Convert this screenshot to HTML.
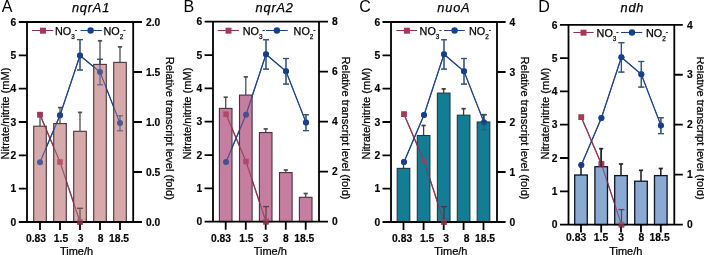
<!DOCTYPE html>
<html><head><meta charset="utf-8"><style>
html,body{margin:0;padding:0;background:#fff;width:704px;height:255px;overflow:hidden}
svg{display:block;will-change:transform}
text{font-family:"Liberation Sans", sans-serif;fill:#000}
.rg{stroke:#000;stroke-width:0.25}
.bd{font-weight:bold;stroke:#000;stroke-width:0.15}
</style></head><body>
<svg width="704" height="255" viewBox="0 0 704 255">
<g><text x="1.8" y="12" font-size="16" fill="#111">A</text><text x="91" y="12.3" font-size="12.8" letter-spacing="0.8" font-style="italic" class="rg" text-anchor="middle" fill="#111">nqrA1</text><polyline points="40,114.7 60,162 80,222" fill="none" stroke="#8e3550" stroke-width="1.2"/><line x1="80" y1="208.3" x2="80" y2="222" stroke="#3a2a30" stroke-width="1.2"/><line x1="77" y1="208.3" x2="83" y2="208.3" stroke="#3a2a30" stroke-width="1.3"/><rect x="37.2" y="111.9" width="5.6" height="5.6" fill="#a63a55"/><rect x="57.2" y="159.2" width="5.6" height="5.6" fill="#a63a55"/><rect x="77.2" y="219.2" width="5.6" height="5.6" fill="#a63a55"/><polyline points="40,162.3 60,115.2 80,55.5 100,72 120,123.1" fill="none" stroke="#1c4185" stroke-width="1.15"/><line x1="80" y1="39.6" x2="80" y2="70" stroke="#34507e" stroke-width="1.2"/><line x1="77" y1="39.6" x2="83" y2="39.6" stroke="#34507e" stroke-width="1.2"/><line x1="77" y1="70" x2="83" y2="70" stroke="#34507e" stroke-width="1.2"/><line x1="100" y1="59.3" x2="100" y2="84.8" stroke="#34507e" stroke-width="1.2"/><line x1="97" y1="59.3" x2="103" y2="59.3" stroke="#34507e" stroke-width="1.2"/><line x1="97" y1="84.8" x2="103" y2="84.8" stroke="#34507e" stroke-width="1.2"/><line x1="120" y1="115.8" x2="120" y2="130.8" stroke="#34507e" stroke-width="1.2"/><line x1="117" y1="115.8" x2="123" y2="115.8" stroke="#34507e" stroke-width="1.2"/><line x1="117" y1="130.8" x2="123" y2="130.8" stroke="#34507e" stroke-width="1.2"/><circle cx="40" cy="162.3" r="3" fill="#17408c"/><circle cx="60" cy="115.2" r="3" fill="#17408c"/><circle cx="80" cy="55.5" r="3" fill="#17408c"/><circle cx="100" cy="72" r="3" fill="#17408c"/><circle cx="120" cy="123.1" r="3" fill="#17408c"/><line x1="40" y1="114" x2="40" y2="126.2" stroke="#4e4e4e" stroke-width="1.3"/><line x1="37.9" y1="114" x2="42.1" y2="114" stroke="#4e4e4e" stroke-width="1.7"/><line x1="60" y1="107.6" x2="60" y2="123.6" stroke="#4e4e4e" stroke-width="1.3"/><line x1="57.9" y1="107.6" x2="62.1" y2="107.6" stroke="#4e4e4e" stroke-width="1.7"/><line x1="80" y1="112.4" x2="80" y2="131.3" stroke="#4e4e4e" stroke-width="1.3"/><line x1="77.9" y1="112.4" x2="82.1" y2="112.4" stroke="#4e4e4e" stroke-width="1.7"/><line x1="100" y1="40.8" x2="100" y2="64.4" stroke="#4e4e4e" stroke-width="1.3"/><line x1="97.9" y1="40.8" x2="102.1" y2="40.8" stroke="#4e4e4e" stroke-width="1.7"/><line x1="120" y1="46.9" x2="120" y2="62.4" stroke="#4e4e4e" stroke-width="1.3"/><line x1="117.9" y1="46.9" x2="122.1" y2="46.9" stroke="#4e4e4e" stroke-width="1.7"/><rect x="33.7" y="126.2" width="12.6" height="95.8" fill="#d6aaab" stroke="#4a3436" stroke-width="1.1"/><rect x="53.7" y="123.6" width="12.6" height="98.4" fill="#d6aaab" stroke="#4a3436" stroke-width="1.1"/><rect x="73.7" y="131.3" width="12.6" height="90.7" fill="#d6aaab" stroke="#4a3436" stroke-width="1.1"/><rect x="93.7" y="64.4" width="12.6" height="157.6" fill="#d6aaab" stroke="#4a3436" stroke-width="1.1"/><rect x="113.7" y="62.4" width="12.6" height="159.6" fill="#d6aaab" stroke="#4a3436" stroke-width="1.1"/><path d="M18.8,22H142M18.8,222H142M27,22V222M133.2,22V222" stroke="#000" stroke-width="1.8" fill="none"/><path d="M18.8,188.67H27M18.8,155.33H27M18.8,122H27M18.8,88.67H27M18.8,55.33H27M133.2,172H142M133.2,122H142M133.2,72H142M40,222V230M60,222V230M80,222V230M100,222V230M120,222V230" stroke="#000" stroke-width="1.8" fill="none"/><g opacity="0.75"><polyline points="40,114.7 60,162 80,222" fill="none" stroke="#8e3550" stroke-width="1.2"/><line x1="80" y1="208.3" x2="80" y2="222" stroke="#3a2a30" stroke-width="1.2"/><line x1="77" y1="208.3" x2="83" y2="208.3" stroke="#3a2a30" stroke-width="1.3"/><rect x="37.2" y="111.9" width="5.6" height="5.6" fill="#a63a55"/><rect x="57.2" y="159.2" width="5.6" height="5.6" fill="#a63a55"/><rect x="77.2" y="219.2" width="5.6" height="5.6" fill="#a63a55"/><polyline points="40,162.3 60,115.2 80,55.5 100,72 120,123.1" fill="none" stroke="#1c4185" stroke-width="1.15"/><line x1="80" y1="39.6" x2="80" y2="70" stroke="#34507e" stroke-width="1.2"/><line x1="77" y1="39.6" x2="83" y2="39.6" stroke="#34507e" stroke-width="1.2"/><line x1="77" y1="70" x2="83" y2="70" stroke="#34507e" stroke-width="1.2"/><line x1="100" y1="59.3" x2="100" y2="84.8" stroke="#34507e" stroke-width="1.2"/><line x1="97" y1="59.3" x2="103" y2="59.3" stroke="#34507e" stroke-width="1.2"/><line x1="97" y1="84.8" x2="103" y2="84.8" stroke="#34507e" stroke-width="1.2"/><line x1="120" y1="115.8" x2="120" y2="130.8" stroke="#34507e" stroke-width="1.2"/><line x1="117" y1="115.8" x2="123" y2="115.8" stroke="#34507e" stroke-width="1.2"/><line x1="117" y1="130.8" x2="123" y2="130.8" stroke="#34507e" stroke-width="1.2"/><circle cx="40" cy="162.3" r="3" fill="#17408c"/><circle cx="60" cy="115.2" r="3" fill="#17408c"/><circle cx="80" cy="55.5" r="3" fill="#17408c"/><circle cx="100" cy="72" r="3" fill="#17408c"/><circle cx="120" cy="123.1" r="3" fill="#17408c"/></g><text x="16.3" y="225.7" font-size="10.3" class="bd" text-anchor="end">0</text><text x="16.3" y="192.37" font-size="10.3" class="bd" text-anchor="end">1</text><text x="16.3" y="159.03" font-size="10.3" class="bd" text-anchor="end">2</text><text x="16.3" y="125.7" font-size="10.3" class="bd" text-anchor="end">3</text><text x="16.3" y="92.37" font-size="10.3" class="bd" text-anchor="end">4</text><text x="16.3" y="59.03" font-size="10.3" class="bd" text-anchor="end">5</text><text x="16.3" y="25.7" font-size="10.3" class="bd" text-anchor="end">6</text><text x="146" y="225.7" font-size="10.3" class="bd">0.0</text><text x="146" y="175.7" font-size="10.3" class="bd">0.5</text><text x="146" y="125.7" font-size="10.3" class="bd">1.0</text><text x="146" y="75.7" font-size="10.3" class="bd">1.5</text><text x="146" y="25.7" font-size="10.3" class="bd">2.0</text><text x="36" y="241.6" font-size="10.3" class="bd" text-anchor="middle">0.83</text><text x="61" y="241.6" font-size="10.3" class="bd" text-anchor="middle">1.5</text><text x="80.5" y="241.6" font-size="10.3" class="bd" text-anchor="middle">3</text><text x="100.5" y="241.6" font-size="10.3" class="bd" text-anchor="middle">8</text><text x="119" y="241.6" font-size="10.3" class="bd" text-anchor="middle">18.5</text><text x="76.5" y="255" font-size="11" text-anchor="middle" class="rg">Time/h</text><text transform="translate(9.4,113.5) rotate(-90)" font-size="11.1" text-anchor="middle" class="rg">Nitrate/nitrite (mM)</text><text transform="translate(165.5,128.3) rotate(90)" font-size="11.1" text-anchor="middle" class="rg">Relative transcript level (fold)</text><line x1="31.9" y1="30.5" x2="53.2" y2="30.5" stroke="#8e3550" stroke-width="1"/><rect x="40" y="27.7" width="6" height="6" fill="#a63a55"/><text x="55" y="34.7" font-size="10.8" class="rg">NO<tspan font-size="6.4" dy="4">3</tspan><tspan font-size="7" dy="-7">-</tspan></text><line x1="80.5" y1="30.5" x2="101.8" y2="30.5" stroke="#1c4185" stroke-width="1"/><circle cx="90.6" cy="30.5" r="3.2" fill="#17408c"/><text x="103.5" y="34.7" font-size="10.8" class="rg">NO<tspan font-size="6.4" dy="4">2</tspan><tspan font-size="7" dy="-7">-</tspan></text></g>
<g><text x="183.4" y="12" font-size="16" fill="#111">B</text><text x="274.7" y="12.3" font-size="12.8" letter-spacing="0.8" font-style="italic" class="rg" text-anchor="middle" fill="#111">nqrA2</text><polyline points="226,114.2 246,161.5 266,221.7" fill="none" stroke="#8e3550" stroke-width="1.2"/><line x1="266" y1="206.6" x2="266" y2="221.7" stroke="#3a2a30" stroke-width="1.2"/><line x1="263" y1="206.6" x2="269" y2="206.6" stroke="#3a2a30" stroke-width="1.3"/><rect x="223.2" y="111.4" width="5.6" height="5.6" fill="#a63a55"/><rect x="243.2" y="158.7" width="5.6" height="5.6" fill="#a63a55"/><rect x="263.2" y="218.9" width="5.6" height="5.6" fill="#a63a55"/><polyline points="226,162 246,114.7 266,54.3 286,71.3 306,122.4" fill="none" stroke="#1c4185" stroke-width="1.15"/><line x1="266" y1="39.7" x2="266" y2="69.1" stroke="#34507e" stroke-width="1.2"/><line x1="263" y1="39.7" x2="269" y2="39.7" stroke="#34507e" stroke-width="1.2"/><line x1="263" y1="69.1" x2="269" y2="69.1" stroke="#34507e" stroke-width="1.2"/><line x1="286" y1="58.5" x2="286" y2="84.1" stroke="#34507e" stroke-width="1.2"/><line x1="283" y1="58.5" x2="289" y2="58.5" stroke="#34507e" stroke-width="1.2"/><line x1="283" y1="84.1" x2="289" y2="84.1" stroke="#34507e" stroke-width="1.2"/><line x1="306" y1="114.7" x2="306" y2="130.6" stroke="#34507e" stroke-width="1.2"/><line x1="303" y1="114.7" x2="309" y2="114.7" stroke="#34507e" stroke-width="1.2"/><line x1="303" y1="130.6" x2="309" y2="130.6" stroke="#34507e" stroke-width="1.2"/><circle cx="226" cy="162" r="3" fill="#17408c"/><circle cx="246" cy="114.7" r="3" fill="#17408c"/><circle cx="266" cy="54.3" r="3" fill="#17408c"/><circle cx="286" cy="71.3" r="3" fill="#17408c"/><circle cx="306" cy="122.4" r="3" fill="#17408c"/><line x1="225.7" y1="97.2" x2="225.7" y2="108.4" stroke="#4e4e4e" stroke-width="1.3"/><line x1="223.6" y1="97.2" x2="227.8" y2="97.2" stroke="#4e4e4e" stroke-width="1.7"/><line x1="245.8" y1="76.9" x2="245.8" y2="95.1" stroke="#4e4e4e" stroke-width="1.3"/><line x1="243.7" y1="76.9" x2="247.9" y2="76.9" stroke="#4e4e4e" stroke-width="1.7"/><line x1="265.7" y1="128.9" x2="265.7" y2="132.6" stroke="#4e4e4e" stroke-width="1.3"/><line x1="263.6" y1="128.9" x2="267.8" y2="128.9" stroke="#4e4e4e" stroke-width="1.7"/><line x1="285.8" y1="170" x2="285.8" y2="172.6" stroke="#4e4e4e" stroke-width="1.3"/><line x1="283.7" y1="170" x2="287.9" y2="170" stroke="#4e4e4e" stroke-width="1.7"/><line x1="305.7" y1="193.5" x2="305.7" y2="197.3" stroke="#4e4e4e" stroke-width="1.3"/><line x1="303.6" y1="193.5" x2="307.8" y2="193.5" stroke="#4e4e4e" stroke-width="1.7"/><rect x="219.4" y="108.4" width="12.6" height="113.3" fill="#c57da0" stroke="#4a3040" stroke-width="1.1"/><rect x="239.5" y="95.1" width="12.6" height="126.6" fill="#c57da0" stroke="#4a3040" stroke-width="1.1"/><rect x="259.4" y="132.6" width="12.6" height="89.1" fill="#c57da0" stroke="#4a3040" stroke-width="1.1"/><rect x="279.5" y="172.6" width="12.6" height="49.1" fill="#c57da0" stroke="#4a3040" stroke-width="1.1"/><rect x="299.4" y="197.3" width="12.6" height="24.4" fill="#c57da0" stroke="#4a3040" stroke-width="1.1"/><path d="M204.6,21.7H328M204.6,221.7H328M213,21.7V221.7M319,21.7V221.7" stroke="#000" stroke-width="1.8" fill="none"/><path d="M204.6,188.37H213M204.6,155.03H213M204.6,121.7H213M204.6,88.37H213M204.6,55.03H213M319,171.7H328M319,121.7H328M319,71.7H328M225.7,221.7V229.7M245.8,221.7V229.7M265.7,221.7V229.7M285.8,221.7V229.7M305.7,221.7V229.7" stroke="#000" stroke-width="1.8" fill="none"/><g opacity="0.75"><polyline points="226,114.2 246,161.5 266,221.7" fill="none" stroke="#8e3550" stroke-width="1.2"/><line x1="266" y1="206.6" x2="266" y2="221.7" stroke="#3a2a30" stroke-width="1.2"/><line x1="263" y1="206.6" x2="269" y2="206.6" stroke="#3a2a30" stroke-width="1.3"/><rect x="223.2" y="111.4" width="5.6" height="5.6" fill="#a63a55"/><rect x="243.2" y="158.7" width="5.6" height="5.6" fill="#a63a55"/><rect x="263.2" y="218.9" width="5.6" height="5.6" fill="#a63a55"/><polyline points="226,162 246,114.7 266,54.3 286,71.3 306,122.4" fill="none" stroke="#1c4185" stroke-width="1.15"/><line x1="266" y1="39.7" x2="266" y2="69.1" stroke="#34507e" stroke-width="1.2"/><line x1="263" y1="39.7" x2="269" y2="39.7" stroke="#34507e" stroke-width="1.2"/><line x1="263" y1="69.1" x2="269" y2="69.1" stroke="#34507e" stroke-width="1.2"/><line x1="286" y1="58.5" x2="286" y2="84.1" stroke="#34507e" stroke-width="1.2"/><line x1="283" y1="58.5" x2="289" y2="58.5" stroke="#34507e" stroke-width="1.2"/><line x1="283" y1="84.1" x2="289" y2="84.1" stroke="#34507e" stroke-width="1.2"/><line x1="306" y1="114.7" x2="306" y2="130.6" stroke="#34507e" stroke-width="1.2"/><line x1="303" y1="114.7" x2="309" y2="114.7" stroke="#34507e" stroke-width="1.2"/><line x1="303" y1="130.6" x2="309" y2="130.6" stroke="#34507e" stroke-width="1.2"/><circle cx="226" cy="162" r="3" fill="#17408c"/><circle cx="246" cy="114.7" r="3" fill="#17408c"/><circle cx="266" cy="54.3" r="3" fill="#17408c"/><circle cx="286" cy="71.3" r="3" fill="#17408c"/><circle cx="306" cy="122.4" r="3" fill="#17408c"/></g><text x="202.3" y="225.4" font-size="10.3" class="bd" text-anchor="end">0</text><text x="202.3" y="192.07" font-size="10.3" class="bd" text-anchor="end">1</text><text x="202.3" y="158.73" font-size="10.3" class="bd" text-anchor="end">2</text><text x="202.3" y="125.4" font-size="10.3" class="bd" text-anchor="end">3</text><text x="202.3" y="92.07" font-size="10.3" class="bd" text-anchor="end">4</text><text x="202.3" y="58.73" font-size="10.3" class="bd" text-anchor="end">5</text><text x="202.3" y="25.4" font-size="10.3" class="bd" text-anchor="end">6</text><text x="332" y="225.4" font-size="10.3" class="bd">0</text><text x="332" y="175.4" font-size="10.3" class="bd">2</text><text x="332" y="125.4" font-size="10.3" class="bd">4</text><text x="332" y="75.4" font-size="10.3" class="bd">6</text><text x="332" y="25.4" font-size="10.3" class="bd">8</text><text x="221" y="241.6" font-size="10.3" class="bd" text-anchor="middle">0.83</text><text x="246.4" y="241.6" font-size="10.3" class="bd" text-anchor="middle">1.5</text><text x="265.5" y="241.6" font-size="10.3" class="bd" text-anchor="middle">3</text><text x="285.8" y="241.6" font-size="10.3" class="bd" text-anchor="middle">8</text><text x="304.2" y="241.6" font-size="10.3" class="bd" text-anchor="middle">18.5</text><text x="270.3" y="255" font-size="11" text-anchor="middle" class="rg">Time/h</text><text transform="translate(190.7,113.5) rotate(-90)" font-size="11.1" text-anchor="middle" class="rg">Nitrate/nitrite (mM)</text><text transform="translate(341.8,128) rotate(90)" font-size="11.1" text-anchor="middle" class="rg">Relative transcript level (fold)</text><line x1="217.8" y1="30.5" x2="239.1" y2="30.5" stroke="#8e3550" stroke-width="1"/><rect x="225.5" y="27.7" width="6" height="6" fill="#a63a55"/><text x="242.8" y="34.7" font-size="10.8" class="rg">NO<tspan font-size="6.4" dy="4">3</tspan><tspan font-size="7" dy="-7">-</tspan></text><line x1="266" y1="30.5" x2="287.7" y2="30.5" stroke="#1c4185" stroke-width="1"/><circle cx="276.9" cy="30.5" r="3.2" fill="#17408c"/><text x="293.6" y="34.7" font-size="10.8" class="rg">NO<tspan font-size="6.4" dy="4">2</tspan><tspan font-size="7" dy="-7">-</tspan></text></g>
<g><text x="359.3" y="12" font-size="16" fill="#111">C</text><text x="453.9" y="12.3" font-size="12.8" letter-spacing="0.8" font-style="italic" class="rg" text-anchor="middle" fill="#111">nuoA</text><polyline points="404,114.2 424,161 444,222" fill="none" stroke="#8e3550" stroke-width="1.2"/><line x1="444" y1="206.6" x2="444" y2="222" stroke="#3a2a30" stroke-width="1.2"/><line x1="441" y1="206.6" x2="447" y2="206.6" stroke="#3a2a30" stroke-width="1.3"/><rect x="401.2" y="111.4" width="5.6" height="5.6" fill="#a63a55"/><rect x="421.2" y="158.2" width="5.6" height="5.6" fill="#a63a55"/><rect x="441.2" y="219.2" width="5.6" height="5.6" fill="#a63a55"/><polyline points="404,162 424,115 444,54.3 464,71.3 484,122.4" fill="none" stroke="#1c4185" stroke-width="1.15"/><line x1="444" y1="39.7" x2="444" y2="69.1" stroke="#34507e" stroke-width="1.2"/><line x1="441" y1="39.7" x2="447" y2="39.7" stroke="#34507e" stroke-width="1.2"/><line x1="441" y1="69.1" x2="447" y2="69.1" stroke="#34507e" stroke-width="1.2"/><line x1="464" y1="58.5" x2="464" y2="84.1" stroke="#34507e" stroke-width="1.2"/><line x1="461" y1="58.5" x2="467" y2="58.5" stroke="#34507e" stroke-width="1.2"/><line x1="461" y1="84.1" x2="467" y2="84.1" stroke="#34507e" stroke-width="1.2"/><line x1="484" y1="114.7" x2="484" y2="130" stroke="#34507e" stroke-width="1.2"/><line x1="481" y1="114.7" x2="487" y2="114.7" stroke="#34507e" stroke-width="1.2"/><line x1="481" y1="130" x2="487" y2="130" stroke="#34507e" stroke-width="1.2"/><circle cx="404" cy="162" r="3" fill="#17408c"/><circle cx="424" cy="115" r="3" fill="#17408c"/><circle cx="444" cy="54.3" r="3" fill="#17408c"/><circle cx="464" cy="71.3" r="3" fill="#17408c"/><circle cx="484" cy="122.4" r="3" fill="#17408c"/><line x1="403.5" y1="162" x2="403.5" y2="168.4" stroke="#3a3a3a" stroke-width="1.3"/><line x1="401.4" y1="162" x2="405.6" y2="162" stroke="#3a3a3a" stroke-width="1.7"/><line x1="423.6" y1="125.5" x2="423.6" y2="135.5" stroke="#3a3a3a" stroke-width="1.3"/><line x1="421.5" y1="125.5" x2="425.7" y2="125.5" stroke="#3a3a3a" stroke-width="1.7"/><line x1="443.7" y1="88.9" x2="443.7" y2="93.1" stroke="#3a3a3a" stroke-width="1.3"/><line x1="441.6" y1="88.9" x2="445.8" y2="88.9" stroke="#3a3a3a" stroke-width="1.7"/><line x1="463.6" y1="108.7" x2="463.6" y2="115.2" stroke="#3a3a3a" stroke-width="1.3"/><line x1="461.5" y1="108.7" x2="465.7" y2="108.7" stroke="#3a3a3a" stroke-width="1.7"/><line x1="483.5" y1="114.7" x2="483.5" y2="122" stroke="#3a3a3a" stroke-width="1.3"/><line x1="481.4" y1="114.7" x2="485.6" y2="114.7" stroke="#3a3a3a" stroke-width="1.7"/><rect x="397.2" y="168.4" width="12.6" height="53.6" fill="#147d96" stroke="#1e3a44" stroke-width="1.1"/><rect x="417.3" y="135.5" width="12.6" height="86.5" fill="#147d96" stroke="#1e3a44" stroke-width="1.1"/><rect x="437.4" y="93.1" width="12.6" height="128.9" fill="#147d96" stroke="#1e3a44" stroke-width="1.1"/><rect x="457.3" y="115.2" width="12.6" height="106.8" fill="#147d96" stroke="#1e3a44" stroke-width="1.1"/><rect x="477.2" y="122" width="12.6" height="100" fill="#147d96" stroke="#1e3a44" stroke-width="1.1"/><path d="M382.5,22H505.6M382.5,222H505.6M391,22V222M497,22V222" stroke="#000" stroke-width="1.8" fill="none"/><path d="M382.5,188.67H391M382.5,155.33H391M382.5,122H391M382.5,88.67H391M382.5,55.33H391M497,172H505.6M497,122H505.6M497,72H505.6M403.5,222V230M423.6,222V230M443.7,222V230M463.6,222V230M483.5,222V230" stroke="#000" stroke-width="1.8" fill="none"/><g opacity="0.75"><polyline points="404,114.2 424,161 444,222" fill="none" stroke="#8e3550" stroke-width="1.2"/><line x1="444" y1="206.6" x2="444" y2="222" stroke="#3a2a30" stroke-width="1.2"/><line x1="441" y1="206.6" x2="447" y2="206.6" stroke="#3a2a30" stroke-width="1.3"/><rect x="401.2" y="111.4" width="5.6" height="5.6" fill="#a63a55"/><rect x="421.2" y="158.2" width="5.6" height="5.6" fill="#a63a55"/><rect x="441.2" y="219.2" width="5.6" height="5.6" fill="#a63a55"/><polyline points="404,162 424,115 444,54.3 464,71.3 484,122.4" fill="none" stroke="#1c4185" stroke-width="1.15"/><line x1="444" y1="39.7" x2="444" y2="69.1" stroke="#34507e" stroke-width="1.2"/><line x1="441" y1="39.7" x2="447" y2="39.7" stroke="#34507e" stroke-width="1.2"/><line x1="441" y1="69.1" x2="447" y2="69.1" stroke="#34507e" stroke-width="1.2"/><line x1="464" y1="58.5" x2="464" y2="84.1" stroke="#34507e" stroke-width="1.2"/><line x1="461" y1="58.5" x2="467" y2="58.5" stroke="#34507e" stroke-width="1.2"/><line x1="461" y1="84.1" x2="467" y2="84.1" stroke="#34507e" stroke-width="1.2"/><line x1="484" y1="114.7" x2="484" y2="130" stroke="#34507e" stroke-width="1.2"/><line x1="481" y1="114.7" x2="487" y2="114.7" stroke="#34507e" stroke-width="1.2"/><line x1="481" y1="130" x2="487" y2="130" stroke="#34507e" stroke-width="1.2"/><circle cx="404" cy="162" r="3" fill="#17408c"/><circle cx="424" cy="115" r="3" fill="#17408c"/><circle cx="444" cy="54.3" r="3" fill="#17408c"/><circle cx="464" cy="71.3" r="3" fill="#17408c"/><circle cx="484" cy="122.4" r="3" fill="#17408c"/></g><text x="380.3" y="225.7" font-size="10.3" class="bd" text-anchor="end">0</text><text x="380.3" y="192.37" font-size="10.3" class="bd" text-anchor="end">1</text><text x="380.3" y="159.03" font-size="10.3" class="bd" text-anchor="end">2</text><text x="380.3" y="125.7" font-size="10.3" class="bd" text-anchor="end">3</text><text x="380.3" y="92.37" font-size="10.3" class="bd" text-anchor="end">4</text><text x="380.3" y="59.03" font-size="10.3" class="bd" text-anchor="end">5</text><text x="380.3" y="25.7" font-size="10.3" class="bd" text-anchor="end">6</text><text x="509.5" y="225.7" font-size="10.3" class="bd">0</text><text x="509.5" y="175.7" font-size="10.3" class="bd">1</text><text x="509.5" y="125.7" font-size="10.3" class="bd">2</text><text x="509.5" y="75.7" font-size="10.3" class="bd">3</text><text x="509.5" y="25.7" font-size="10.3" class="bd">4</text><text x="402.1" y="241.6" font-size="10.3" class="bd" text-anchor="middle">0.83</text><text x="427.1" y="241.6" font-size="10.3" class="bd" text-anchor="middle">1.5</text><text x="446.2" y="241.6" font-size="10.3" class="bd" text-anchor="middle">3</text><text x="466.7" y="241.6" font-size="10.3" class="bd" text-anchor="middle">8</text><text x="485" y="241.6" font-size="10.3" class="bd" text-anchor="middle">18.5</text><text x="450.9" y="255" font-size="11" text-anchor="middle" class="rg">Time/h</text><text transform="translate(370,113.7) rotate(-90)" font-size="11.1" text-anchor="middle" class="rg">Nitrate/nitrite (mM)</text><text transform="translate(520.7,128) rotate(90)" font-size="11.1" text-anchor="middle" class="rg">Relative transcript level (fold)</text><line x1="396.3" y1="30.5" x2="417.1" y2="30.5" stroke="#8e3550" stroke-width="1"/><rect x="403.9" y="27.7" width="6" height="6" fill="#a63a55"/><text x="419.6" y="34.7" font-size="10.8" class="rg">NO<tspan font-size="6.4" dy="4">3</tspan><tspan font-size="7" dy="-7">-</tspan></text><line x1="444" y1="30.5" x2="464.8" y2="30.5" stroke="#1c4185" stroke-width="1"/><circle cx="454.6" cy="30.5" r="3.2" fill="#17408c"/><text x="469" y="34.7" font-size="10.8" class="rg">NO<tspan font-size="6.4" dy="4">2</tspan><tspan font-size="7" dy="-7">-</tspan></text></g>
<g><text x="538.2" y="12" font-size="16" fill="#111">D</text><text x="632.4" y="12.3" font-size="12.8" letter-spacing="0.8" font-style="italic" class="rg" text-anchor="middle" fill="#111">ndh</text><polyline points="581.3,117.2 601.4,164 621.5,224.6" fill="none" stroke="#8e3550" stroke-width="1.2"/><line x1="621.5" y1="209.6" x2="621.5" y2="224.6" stroke="#3a2a30" stroke-width="1.2"/><line x1="618.5" y1="209.6" x2="624.5" y2="209.6" stroke="#3a2a30" stroke-width="1.3"/><rect x="578.5" y="114.4" width="5.6" height="5.6" fill="#a63a55"/><rect x="598.6" y="161.2" width="5.6" height="5.6" fill="#a63a55"/><rect x="618.7" y="221.8" width="5.6" height="5.6" fill="#a63a55"/><polyline points="581.3,165 601.4,118 621.4,57.3 641.3,74.3 660.9,125.4" fill="none" stroke="#1c4185" stroke-width="1.15"/><line x1="621.4" y1="42.7" x2="621.4" y2="72.1" stroke="#34507e" stroke-width="1.2"/><line x1="618.4" y1="42.7" x2="624.4" y2="42.7" stroke="#34507e" stroke-width="1.2"/><line x1="618.4" y1="72.1" x2="624.4" y2="72.1" stroke="#34507e" stroke-width="1.2"/><line x1="641.3" y1="61.5" x2="641.3" y2="87.1" stroke="#34507e" stroke-width="1.2"/><line x1="638.3" y1="61.5" x2="644.3" y2="61.5" stroke="#34507e" stroke-width="1.2"/><line x1="638.3" y1="87.1" x2="644.3" y2="87.1" stroke="#34507e" stroke-width="1.2"/><line x1="660.9" y1="117.7" x2="660.9" y2="133.6" stroke="#34507e" stroke-width="1.2"/><line x1="657.9" y1="117.7" x2="663.9" y2="117.7" stroke="#34507e" stroke-width="1.2"/><line x1="657.9" y1="133.6" x2="663.9" y2="133.6" stroke="#34507e" stroke-width="1.2"/><circle cx="581.3" cy="165" r="3" fill="#17408c"/><circle cx="601.4" cy="118" r="3" fill="#17408c"/><circle cx="621.4" cy="57.3" r="3" fill="#17408c"/><circle cx="641.3" cy="74.3" r="3" fill="#17408c"/><circle cx="660.9" cy="125.4" r="3" fill="#17408c"/><line x1="581" y1="165" x2="581" y2="175" stroke="#262626" stroke-width="1.6"/><line x1="578.9" y1="165" x2="583.1" y2="165" stroke="#262626" stroke-width="1.7"/><line x1="601.2" y1="148.7" x2="601.2" y2="166.7" stroke="#262626" stroke-width="1.6"/><line x1="599.1" y1="148.7" x2="603.3" y2="148.7" stroke="#262626" stroke-width="1.7"/><line x1="621" y1="164" x2="621" y2="175.6" stroke="#262626" stroke-width="1.6"/><line x1="618.9" y1="164" x2="623.1" y2="164" stroke="#262626" stroke-width="1.7"/><line x1="641" y1="170.3" x2="641" y2="181.2" stroke="#262626" stroke-width="1.6"/><line x1="638.9" y1="170.3" x2="643.1" y2="170.3" stroke="#262626" stroke-width="1.7"/><line x1="660.8" y1="168.5" x2="660.8" y2="175.6" stroke="#262626" stroke-width="1.6"/><line x1="658.7" y1="168.5" x2="662.9" y2="168.5" stroke="#262626" stroke-width="1.7"/><rect x="574.7" y="175" width="12.6" height="49.6" fill="#8aa9d3" stroke="#10141c" stroke-width="1.3"/><rect x="594.9" y="166.7" width="12.6" height="57.9" fill="#8aa9d3" stroke="#10141c" stroke-width="1.3"/><rect x="614.7" y="175.6" width="12.6" height="49" fill="#8aa9d3" stroke="#10141c" stroke-width="1.3"/><rect x="634.7" y="181.2" width="12.6" height="43.4" fill="#8aa9d3" stroke="#10141c" stroke-width="1.3"/><rect x="654.5" y="175.6" width="12.6" height="49" fill="#8aa9d3" stroke="#10141c" stroke-width="1.3"/><path d="M560,24.8H682.8M560,224.6H682.8M568.5,24.8V224.6M674.3,24.8V224.6" stroke="#000" stroke-width="1.8" fill="none"/><path d="M560,191.3H568.5M560,158H568.5M560,124.7H568.5M560,91.4H568.5M560,58.1H568.5M674.3,174.65H682.8M674.3,124.7H682.8M674.3,74.75H682.8M581,224.6V232.6M601.2,224.6V232.6M621,224.6V232.6M641,224.6V232.6M660.8,224.6V232.6" stroke="#000" stroke-width="1.8" fill="none"/><g opacity="0.75"><polyline points="581.3,117.2 601.4,164 621.5,224.6" fill="none" stroke="#8e3550" stroke-width="1.2"/><line x1="621.5" y1="209.6" x2="621.5" y2="224.6" stroke="#3a2a30" stroke-width="1.2"/><line x1="618.5" y1="209.6" x2="624.5" y2="209.6" stroke="#3a2a30" stroke-width="1.3"/><rect x="578.5" y="114.4" width="5.6" height="5.6" fill="#a63a55"/><rect x="598.6" y="161.2" width="5.6" height="5.6" fill="#a63a55"/><rect x="618.7" y="221.8" width="5.6" height="5.6" fill="#a63a55"/><polyline points="581.3,165 601.4,118 621.4,57.3 641.3,74.3 660.9,125.4" fill="none" stroke="#1c4185" stroke-width="1.15"/><line x1="621.4" y1="42.7" x2="621.4" y2="72.1" stroke="#34507e" stroke-width="1.2"/><line x1="618.4" y1="42.7" x2="624.4" y2="42.7" stroke="#34507e" stroke-width="1.2"/><line x1="618.4" y1="72.1" x2="624.4" y2="72.1" stroke="#34507e" stroke-width="1.2"/><line x1="641.3" y1="61.5" x2="641.3" y2="87.1" stroke="#34507e" stroke-width="1.2"/><line x1="638.3" y1="61.5" x2="644.3" y2="61.5" stroke="#34507e" stroke-width="1.2"/><line x1="638.3" y1="87.1" x2="644.3" y2="87.1" stroke="#34507e" stroke-width="1.2"/><line x1="660.9" y1="117.7" x2="660.9" y2="133.6" stroke="#34507e" stroke-width="1.2"/><line x1="657.9" y1="117.7" x2="663.9" y2="117.7" stroke="#34507e" stroke-width="1.2"/><line x1="657.9" y1="133.6" x2="663.9" y2="133.6" stroke="#34507e" stroke-width="1.2"/><circle cx="581.3" cy="165" r="3" fill="#17408c"/><circle cx="601.4" cy="118" r="3" fill="#17408c"/><circle cx="621.4" cy="57.3" r="3" fill="#17408c"/><circle cx="641.3" cy="74.3" r="3" fill="#17408c"/><circle cx="660.9" cy="125.4" r="3" fill="#17408c"/></g><line x1="601.2" y1="148.7" x2="601.2" y2="166.7" stroke="#262626" stroke-width="1.3"/><text x="557.6" y="228.3" font-size="10.3" class="bd" text-anchor="end">0</text><text x="557.6" y="195" font-size="10.3" class="bd" text-anchor="end">1</text><text x="557.6" y="161.7" font-size="10.3" class="bd" text-anchor="end">2</text><text x="557.6" y="128.4" font-size="10.3" class="bd" text-anchor="end">3</text><text x="557.6" y="95.1" font-size="10.3" class="bd" text-anchor="end">4</text><text x="557.6" y="61.8" font-size="10.3" class="bd" text-anchor="end">5</text><text x="557.6" y="28.5" font-size="10.3" class="bd" text-anchor="end">6</text><text x="687" y="228.3" font-size="10.3" class="bd">0</text><text x="687" y="178.35" font-size="10.3" class="bd">1</text><text x="687" y="128.4" font-size="10.3" class="bd">2</text><text x="687" y="78.45" font-size="10.3" class="bd">3</text><text x="687" y="28.5" font-size="10.3" class="bd">4</text><text x="576.1" y="241.3" font-size="10.3" class="bd" text-anchor="middle">0.83</text><text x="601" y="241.3" font-size="10.3" class="bd" text-anchor="middle">1.5</text><text x="621" y="241.3" font-size="10.3" class="bd" text-anchor="middle">3</text><text x="641.3" y="241.3" font-size="10.3" class="bd" text-anchor="middle">8</text><text x="659.6" y="241.3" font-size="10.3" class="bd" text-anchor="middle">18.5</text><text x="625.8" y="255" font-size="11" text-anchor="middle" class="rg">Time/h</text><text transform="translate(548.5,113.7) rotate(-90)" font-size="11.1" text-anchor="middle" class="rg">Nitrate/nitrite (mM)</text><text transform="translate(696.8,128.1) rotate(90)" font-size="11.1" text-anchor="middle" class="rg">Relative transcript level (fold)</text><line x1="573.3" y1="32.5" x2="593.7" y2="32.5" stroke="#8e3550" stroke-width="1"/><rect x="580.5" y="29.7" width="6" height="6" fill="#a63a55"/><text x="596.6" y="36.7" font-size="10.8" class="rg">NO<tspan font-size="6.4" dy="4">3</tspan><tspan font-size="7" dy="-7">-</tspan></text><line x1="621" y1="32.5" x2="642.2" y2="32.5" stroke="#1c4185" stroke-width="1"/><circle cx="632" cy="32.5" r="3.2" fill="#17408c"/><text x="646" y="36.7" font-size="10.8" class="rg">NO<tspan font-size="6.4" dy="4">2</tspan><tspan font-size="7" dy="-7">-</tspan></text></g>
</svg>
</body></html>
